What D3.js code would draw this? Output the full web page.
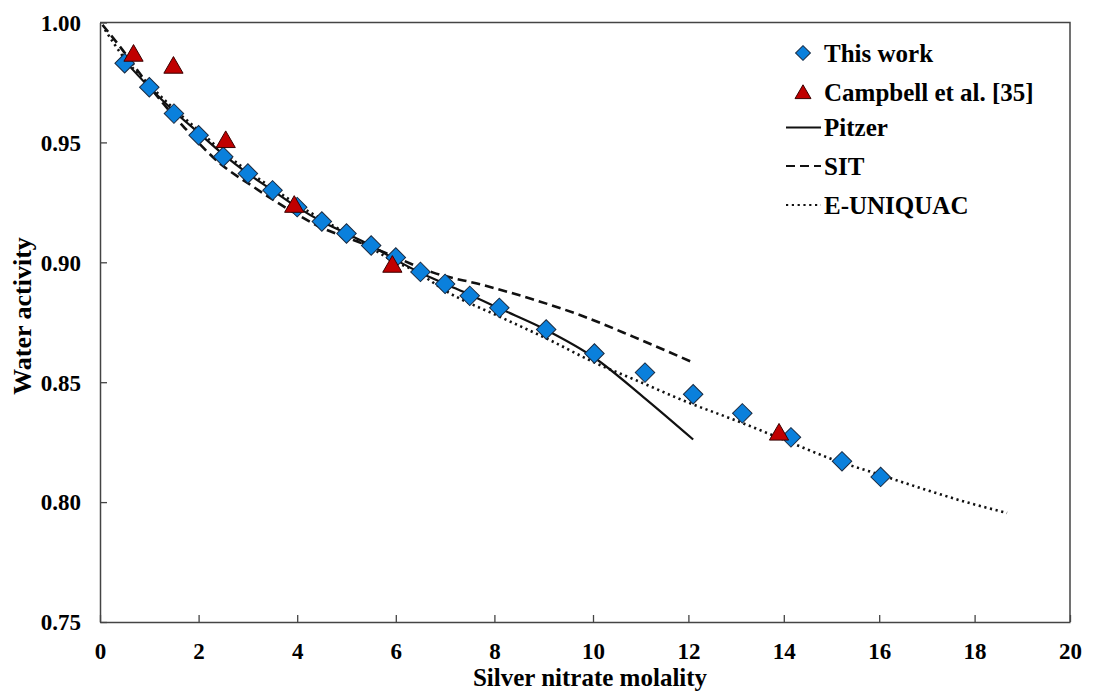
<!DOCTYPE html>
<html>
<head>
<meta charset="utf-8">
<script src="https://cdn.jsdelivr.net/npm/d3@7"></script>
<style>
  body { margin: 0; background: #fff; }
  text { font-family: "Liberation Serif", "Times New Roman", serif; font-weight: bold; fill: #000; }
</style>
</head>
<body>
<div class="chart"></div>
<script>
// measured points (This work)
var workX = [0.5, 1, 1.5, 2, 2.5, 3, 3.5, 4, 4.5, 5, 5.5, 6, 6.5, 7, 7.5, 8.1, 9.05, 10.03, 11.09, 12.1, 13.13, 14.15, 15.22, 16.03];
var workY = [0.983, 0.973, 0.962, 0.953, 0.944, 0.937, 0.930, 0.923, 0.917, 0.912, 0.907, 0.902, 0.896, 0.891, 0.886, 0.881, 0.872, 0.862, 0.854, 0.845, 0.837, 0.827, 0.817, 0.8105];

// Campbell et al. [35]
var campX = [0.68, 1.49, 2.55, 3.94, 5.93, 13.9];
var campY = [0.987, 0.982, 0.951, 0.924, 0.899, 0.829];

// model curves
var pitzerX = [0.5, 1, 1.5, 2, 2.5, 3, 3.5, 4, 4.5, 5, 5.5, 6, 6.5, 7, 7.5, 8.1, 9.06, 10, 11.05, 12.1];
var pitzerY = [0.984, 0.973, 0.963, 0.954, 0.945, 0.937, 0.930, 0.923, 0.917, 0.912, 0.907, 0.901, 0.8956, 0.891, 0.8865, 0.8808, 0.8717, 0.8606, 0.8439, 0.8261];

var sitX = [0.05, 0.44, 0.78, 1.25, 1.72, 2.43, 3.11, 3.79, 4.46, 5.14, 5.82, 6.76, 7.77, 8.79, 9.8, 10.84, 12.1];
var sitY = [0.999, 0.989, 0.9795, 0.967, 0.956, 0.9413, 0.9315, 0.9225, 0.9148, 0.9093, 0.9037, 0.8957, 0.8905, 0.8845, 0.8775, 0.869, 0.8582];

var euniX = [0.1, 0.5, 1, 1.5, 2, 2.5, 3, 3.5, 4, 4.5, 5, 5.5, 6, 6.29, 7.1, 8.11, 9.13, 10, 11, 12, 13, 14, 15, 16, 17, 18, 18.68];
var euniY = [0.997, 0.985, 0.974, 0.964, 0.955, 0.946, 0.938, 0.931, 0.924, 0.918, 0.912, 0.906, 0.900, 0.8975, 0.887, 0.8773, 0.8675, 0.8585, 0.850, 0.8415, 0.834, 0.826, 0.818, 0.8115, 0.805, 0.799, 0.7955];

var xTicks = [0, 2, 4, 6, 8, 10, 12, 14, 16, 18, 20];
var yTicks = [0.75, 0.80, 0.85, 0.90, 0.95, 1.00];

var legendNames = ["This work", "Campbell et al. [35]", "Pitzer", "SIT", "E-UNIQUAC"];

var W = 1101, H = 693;
var plotL = 100, plotR = 1070, plotT = 22.5, plotB = 622;

var svg = d3.select(".chart").append("svg")
    .attr("width", W)
    .attr("height", H);

// x axis in the picture is not quite uniform, so piecewise
var x = d3.scaleLinear().domain([0, 10, 20]).range([plotL, 593, plotR]);
var y = d3.scaleLinear().domain([0.75, 1.0]).range([plotB, plotT]);

var frameColor = "#444";

// axes
var xAxis = svg.append("g")
    .attr("transform", "translate(0," + plotB + ")")
    .call(d3.axisBottom(x).tickValues(xTicks).tickFormat(d3.format("d"))
        .tickSizeInner(-7).tickSizeOuter(0));
var yAxis = svg.append("g")
    .attr("transform", "translate(" + plotL + ",0)")
    .call(d3.axisLeft(y).tickValues(yTicks).tickFormat(d3.format(".2f"))
        .tickSizeInner(-7).tickSizeOuter(0).tickPadding(19));

[xAxis, yAxis].forEach(function (g) {
    g.select(".domain").attr("stroke", frameColor).attr("stroke-width", 1.5);
    g.selectAll(".tick line").attr("stroke", frameColor).attr("stroke-width", 1.3);
    g.selectAll(".tick text")
        .attr("fill", "#000")
        .style("font-size", "23px")
        .style("font-family", "'Liberation Serif', 'Times New Roman', serif")
        .style("font-weight", "bold");
});
xAxis.selectAll(".tick text").attr("y", 37).attr("dy", null);
yAxis.selectAll(".tick text").attr("dy", "0.34em");

// top and right border
svg.append("path")
    .attr("d", "M" + plotL + "," + plotT + "H" + plotR + "V" + plotB)
    .attr("fill", "none")
    .attr("stroke", frameColor)
    .attr("stroke-width", 1.5);

// curves
function curve(xs, ys) {
    return d3.line()
        .x(function (d, i) { return x(xs[i]); })
        .y(function (d, i) { return y(ys[i]); })
        .curve(d3.curveMonotoneX)(xs);
}

svg.append("path")
    .attr("d", curve(euniX, euniY))
    .attr("fill", "none").attr("stroke", "#111")
    .attr("stroke-width", 2.6)
    .attr("stroke-dasharray", "2.2,3.6");

svg.append("path")
    .attr("d", curve(sitX, sitY))
    .attr("fill", "none").attr("stroke", "#111")
    .attr("stroke-width", 2.6)
    .attr("stroke-dasharray", "9,5");

svg.append("path")
    .attr("d", curve(pitzerX, pitzerY))
    .attr("fill", "none").attr("stroke", "#111")
    .attr("stroke-width", 2.2);

// markers
var diamond = d3.symbol().type(d3.symbolSquare).size(190);
var tri = d3.symbol().type(d3.symbolTriangle).size(160);

svg.selectAll(".work")
    .data(workX)
    .enter().append("path")
    .attr("class", "work")
    .attr("d", diamond)
    .attr("transform", function (d, i) {
        return "translate(" + x(d) + "," + y(workY[i]) + ") rotate(45)";
    })
    .attr("fill", "#0a80dc")
    .attr("stroke", "#1a2a40")
    .attr("stroke-width", 1);

svg.selectAll(".camp")
    .data(campX)
    .enter().append("path")
    .attr("class", "camp")
    .attr("d", tri)
    .attr("transform", function (d, i) {
        return "translate(" + x(d) + "," + (y(campY[i]) + 2) + ")";
    })
    .attr("fill", "#c00000")
    .attr("stroke", "#3a0000")
    .attr("stroke-width", 1);

// legend
var lg = svg.append("g");
var rowY = [53, 92.5, 127.5, 166, 205];
var textX = 824;

lg.append("path")
    .attr("d", d3.symbol().type(d3.symbolSquare).size(110))
    .attr("transform", "translate(803," + rowY[0] + ") rotate(45)")
    .attr("fill", "#0a80dc").attr("stroke", "#1a2a40");
lg.append("path")
    .attr("d", d3.symbol().type(d3.symbolTriangle).size(110))
    .attr("transform", "translate(803," + (rowY[1] + 1.5) + ")")
    .attr("fill", "#c00000").attr("stroke", "#3a0000");

var dashes = [null, "9,5", "2.2,3.6"];
[2, 3, 4].forEach(function (r, k) {
    lg.append("line")
        .attr("x1", 786).attr("x2", 821)
        .attr("y1", rowY[r]).attr("y2", rowY[r])
        .attr("stroke", "#111")
        .attr("stroke-width", 2.2)
        .attr("stroke-dasharray", dashes[k]);
});

lg.selectAll("text")
    .data(legendNames)
    .enter().append("text")
    .attr("x", textX)
    .attr("y", function (d, i) { return rowY[i]; })
    .attr("dy", "0.35em")
    .style("font-size", "25px")
    .text(function (d) { return d; });

// axis titles
svg.append("text")
    .attr("x", 590)
    .attr("y", 686)
    .style("text-anchor", "middle")
    .style("font-size", "25px")
    .text("Silver nitrate molality");

svg.append("text")
    .attr("transform", "rotate(-90)")
    .attr("x", -316)
    .attr("y", 31)
    .style("text-anchor", "middle")
    .style("font-size", "26px")
    .text("Water activity");
</script>
</body>
</html>
